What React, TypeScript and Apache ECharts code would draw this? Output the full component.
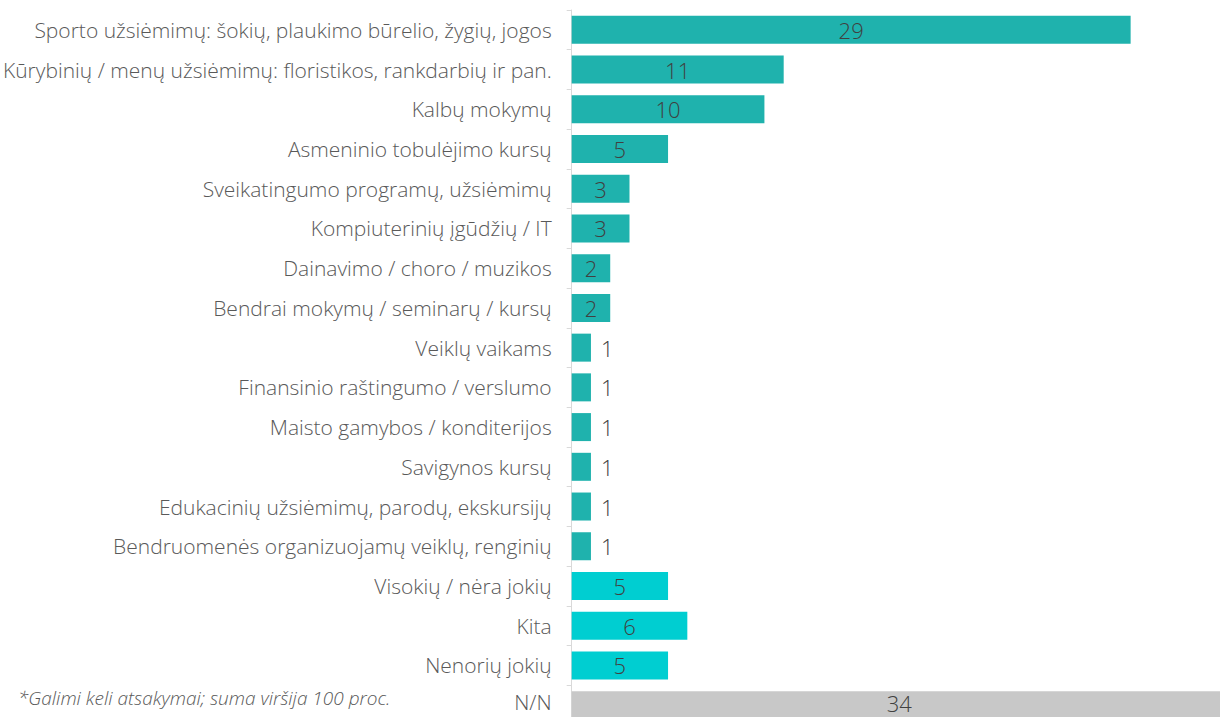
import React, { useEffect, useRef } from "react";
import * as echarts from "echarts";

const categories = [
  "Sporto užsiėmimų: šokių, plaukimo būrelio, žygių, jogos",
  "Kūrybinių / menų užsiėmimų: floristikos, rankdarbių ir pan.",
  "Kalbų mokymų",
  "Asmeninio tobulėjimo kursų",
  "Sveikatingumo programų, užsiėmimų",
  "Kompiuterinių įgūdžių / IT",
  "Dainavimo / choro / muzikos",
  "Bendrai mokymų / seminarų / kursų",
  "Veiklų vaikams",
  "Finansinio raštingumo / verslumo",
  "Maisto gamybos / konditerijos",
  "Savigynos kursų",
  "Edukacinių užsiėmimų, parodų, ekskursijų",
  "Bendruomenės organizuojamų veiklų, renginių",
  "Visokių / nėra jokių",
  "Kita",
  "Nenorių jokių",
  "N/N",
];

const values = [29, 11, 10, 5, 3, 3, 2, 2, 1, 1, 1, 1, 1, 1, 5, 6, 5, 34];

// group of each bar: "main", "other", "none"
const groups = [
  "main", "main", "main", "main", "main", "main", "main", "main", "main",
  "main", "main", "main", "main", "main", "other", "other", "other", "none",
];

const colors: Record<string, string> = {
  main: "#1FB2AD",
  other: "#00CED1",
  none: "#C8C8C8",
};

const footnote = "*Galimi keli atsakymai; suma viršija 100 proc.";

const FONT = "'Open Sans', 'Noto Sans', sans-serif";

export default function App() {
  const ref = useRef<HTMLDivElement>(null);

  useEffect(() => {
    document.body.style.margin = "0";
    if (!ref.current) return;
    const chart = echarts.init(ref.current, undefined, { renderer: "svg" });
    const last = values.length - 1;
    const data = values.map((v, i) => ({
      value: v,
      itemStyle: { color: colors[groups[i]] },
      label:
        v >= 2
          ? {
              position: "inside",
              ...(i === last ? { offset: [0, -2], lineHeight: 18 } : {}),
            }
          : { position: "right", distance: 10 },
    }));
    chart.setOption({
      animation: false,
      grid: { left: 567, right: 3, top: 10, bottom: 0, containLabel: false },
      xAxis: {
        type: "value",
        min: 0,
        max: 34,
        show: false,
      },
      yAxis: {
        type: "category",
        data: categories,
        inverse: true,
        axisLine: { show: true, lineStyle: { color: "#D9D9D9", width: 1 } },
        axisTick: { show: true, length: 5, lineStyle: { color: "#D9D9D9" } },
        axisLabel: {
          margin: 20,
          fontSize: 21,
          fontFamily: FONT,
          fontWeight: 300,
          color: "#595959",
          formatter: (v: string, i: number) => (i === last ? `{nn|${v}}` : v),
          rich: {
            nn: {
              fontSize: 21,
              fontFamily: FONT,
              fontWeight: 300,
              color: "#595959",
              lineHeight: 18,
              padding: [0, 0, 6, 0],
            },
          },
        },
        splitLine: { show: false },
      },
      series: [
        {
          type: "bar",
          data,
          barWidth: 28,
          label: {
            show: true,
            fontSize: 22,
            fontFamily: FONT,
            fontWeight: 300,
            color: "#404040",
          },
        },
      ],
      graphic: [
        {
          type: "text",
          left: 18,
          top: 688,
          style: {
            text: footnote,
            fontSize: 19,
            fontStyle: "italic",
            fontFamily: FONT,
            fontWeight: 300,
            fill: "#595959",
          },
        },
      ],
    });
    return () => chart.dispose();
  }, []);

  return (
    <div style={{ position: "absolute", left: 0, top: 0, width: 1220, height: 717, overflow: "hidden" }}>
      <div
        ref={ref}
        style={{ position: "absolute", left: 0, top: 0, width: 1230, height: 725 }}
      />
    </div>
  );
}
